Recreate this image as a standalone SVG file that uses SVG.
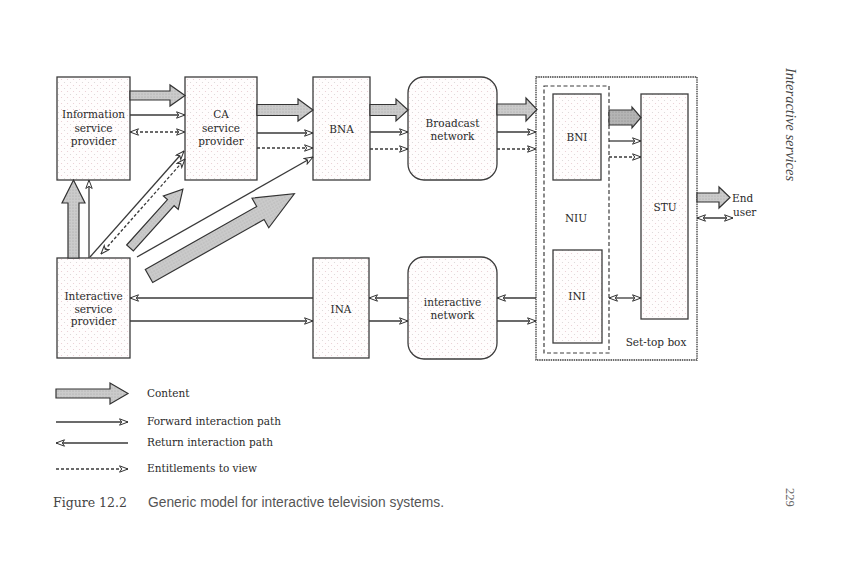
<svg xmlns="http://www.w3.org/2000/svg" width="864" height="576" viewBox="0 0 864 576">
<defs>
<pattern id="dots" width="6" height="6" patternUnits="userSpaceOnUse">
<rect width="6" height="6" fill="#fffdfd"/>
<circle cx="1.5" cy="1.5" r="0.55" fill="#e9c9cf"/>
<circle cx="4.5" cy="4.5" r="0.55" fill="#d9d4d4"/>
</pattern>
<pattern id="gdots" width="3" height="3" patternUnits="userSpaceOnUse">
<rect width="3" height="3" fill="#cbcbcb"/>
<circle cx="1" cy="1" r="0.5" fill="#9a9a9a"/>
</pattern>
<pattern id="gdots2" width="3" height="3" patternUnits="userSpaceOnUse">
<rect width="3" height="3" fill="#b4b4b4"/>
<circle cx="1" cy="1" r="0.5" fill="#808080"/>
</pattern>
<marker id="ah" viewBox="0 0 10 8" refX="9.5" refY="4" markerWidth="10" markerHeight="8" markerUnits="userSpaceOnUse" orient="auto-start-reverse">
<path d="M1,0.8 L9.5,4 L1,7.2 L3.2,4 Z" fill="#fff" stroke="#333" stroke-width="1"/>
</marker>
</defs>
<style>
.box{fill:url(#dots);stroke:#3c3c3c;stroke-width:1.3}
.outer{fill:#fff;stroke:#3c3c3c;stroke-width:1.3;stroke-dasharray:1.5 0.8}
.niu{fill:#fff;stroke:#3c3c3c;stroke-width:1.2;stroke-dasharray:4 2.5}
.lbl{font-family:"DejaVu Serif",serif;font-size:10.5px;fill:#2a2a2a;text-anchor:middle}
.lg{font-family:"DejaVu Serif",serif;font-size:10.5px;fill:#2a2a2a}
.fw{fill:none;stroke:#3a3a3a;stroke-width:1.3;marker-end:url(#ah)}
.bi{fill:none;stroke:#3a3a3a;stroke-width:1.3;marker-start:url(#ah);marker-end:url(#ah)}
.dsh{fill:none;stroke:#3a3a3a;stroke-width:1.3;stroke-dasharray:3 2;marker-end:url(#ah)}
.dbi{fill:none;stroke:#3a3a3a;stroke-width:1.3;stroke-dasharray:3 2;marker-start:url(#ah);marker-end:url(#ah)}
.ct{fill:url(#gdots);stroke:#333;stroke-width:1.2;stroke-linejoin:miter}
.ct2{fill:url(#gdots2);stroke:#333;stroke-width:1.2}
</style>
<rect width="864" height="576" fill="#fff"/>

<g id="set-top-box">
<rect class="outer" x="536" y="77" width="161" height="283"/>
<text class="lbl" x="656" y="346">Set-top box</text>
</g>
<g id="niu">
<rect class="niu" x="544" y="86" width="65" height="267"/>
<text class="lbl" x="576" y="222">NIU</text>
</g>
<g id="bni">
<rect class="box" x="553" y="94" width="48" height="86"/>
<text class="lbl" x="577" y="141">BNI</text>
</g>
<g id="ini">
<rect class="box" x="553" y="250" width="49" height="93"/>
<text class="lbl" x="577" y="300">INI</text>
</g>
<g id="stu">
<rect class="box" x="641" y="94" width="47" height="225"/>
<text class="lbl" x="665" y="211">STU</text>
</g>
<g id="info-provider">
<rect class="box" x="57" y="77" width="73" height="103"/>
<text class="lbl" x="93.5" y="118">Information</text>
<text class="lbl" x="93.5" y="131.5">service</text>
<text class="lbl" x="93.5" y="145">provider</text>
</g>
<g id="ca-provider">
<rect class="box" x="185" y="77" width="72" height="103"/>
<text class="lbl" x="221" y="118">CA</text>
<text class="lbl" x="221" y="131.5">service</text>
<text class="lbl" x="221" y="145">provider</text>
</g>
<g id="bna">
<rect class="box" x="313" y="77" width="57" height="103"/>
<text class="lbl" x="341.5" y="133">BNA</text>
</g>
<g id="broadcast-network">
<rect class="box" x="408" y="77" width="89" height="103" rx="16" ry="16"/>
<text class="lbl" x="452.5" y="127">Broadcast</text>
<text class="lbl" x="452.5" y="140">network</text>
</g>
<g id="interactive-provider">
<rect class="box" x="57" y="258" width="73" height="100"/>
<text class="lbl" x="93.5" y="300">Interactive</text>
<text class="lbl" x="93.5" y="312.5">service</text>
<text class="lbl" x="93.5" y="325">provider</text>
</g>
<g id="ina">
<rect class="box" x="313" y="258" width="56" height="100"/>
<text class="lbl" x="341" y="313">INA</text>
</g>
<g id="interactive-network">
<rect class="box" x="408" y="257" width="89" height="102" rx="16" ry="16"/>
<text class="lbl" x="452.5" y="306">interactive</text>
<text class="lbl" x="452.5" y="319">network</text>
</g>
<g id="end-user">
<text class="lg" x="732" y="202">End</text>
<text class="lg" x="733" y="216">user</text>
</g>

<g id="connectors">
<polygon class="ct" points="130,91 170,91 170,85 185,95.5 170,106 170,100 130,100"/>
<line class="fw" x1="130" y1="115" x2="185" y2="115"/>
<line class="dbi" x1="130" y1="132" x2="185" y2="132"/>
<polygon class="ct" points="257,104.5 298,104.5 298,99 313,110 298,121 298,115.5 257,115.5"/>
<line class="fw" x1="257" y1="133" x2="313" y2="133"/>
<line class="dsh" x1="257" y1="148" x2="313" y2="148"/>
<polygon class="ct" points="370,104.5 396,104.5 396,99 408,110 396,121 396,115.5 370,115.5"/>
<line class="fw" x1="370" y1="132" x2="408" y2="132"/>
<line class="dsh" x1="370" y1="149" x2="408" y2="149"/>
<polygon class="ct" points="497,104 526,104 526,98 537,109.5 526,121 526,115 497,115"/>
<line class="fw" x1="497" y1="132" x2="536" y2="132"/>
<line class="dsh" x1="497" y1="149" x2="536" y2="149"/>
<polygon class="ct2" points="609,110 632,110 632,107 641,117.5 632,128 632,125 609,125"/>
<line class="fw" x1="609" y1="141" x2="641" y2="141"/>
<line class="dsh" x1="609" y1="157" x2="641" y2="157"/>
<polygon class="ct" points="697,193 719,193 719,187 730,197.5 719,208 719,202 697,202"/>
<line class="bi" x1="697" y1="218" x2="733" y2="218"/>
<line class="bi" x1="609" y1="298" x2="641" y2="298"/>

<line class="fw" x1="313" y1="298" x2="130" y2="298"/>
<line class="fw" x1="130" y1="321" x2="313" y2="321"/>
<line class="fw" x1="408" y1="298" x2="369" y2="298"/>
<line class="fw" x1="369" y1="321" x2="408" y2="321"/>
<line class="fw" x1="536" y1="298" x2="497" y2="298"/>
<line class="fw" x1="497" y1="321" x2="536" y2="321"/>

<polygon class="ct" points="68,258 68,203 62,203 73.5,180 85,203 79,203 79,258"/>
<line class="fw" x1="89" y1="258" x2="89" y2="180"/>
<line class="fw" x1="90" y1="257" x2="184" y2="151"/>
<line class="dbi" x1="101" y1="254" x2="185" y2="159"/>
<polygon class="ct" transform="translate(130,248) rotate(-48)" points="0,-4.5 61,-4.5 61,-10 79,0 61,10 61,4.5 0,4.5"/>
<line class="fw" x1="137" y1="257" x2="313" y2="157"/>
<polygon class="ct" transform="translate(149,276) rotate(-29.5)" points="0,-7.5 128,-7.5 128,-17 167,0 128,17 128,7.5 0,7.5"/>
</g>

<g id="legend">
<polygon class="ct" points="56,389 110,389 110,383 128,393.5 110,404 110,398 56,398"/>
<text class="lg" x="147" y="397">Content</text>
<line class="fw" x1="56" y1="422" x2="128" y2="422"/>
<text class="lg" x="147" y="425">Forward interaction path</text>
<line class="fw" x1="128" y1="443" x2="56" y2="443"/>
<text class="lg" x="147" y="446">Return interaction path</text>
<line class="dsh" x1="56" y1="469" x2="128" y2="469"/>
<text class="lg" x="147" y="472">Entitlements to view</text>
</g>

<g id="caption">
<text x="53" y="507" font-family="DejaVu Serif, serif" font-size="12.5" fill="#444">Figure 12.2</text>
<text x="148" y="507" font-family="Liberation Sans, Arial, sans-serif" font-size="13.8" fill="#555">Generic model for interactive television systems.</text>
</g>
<g id="running-head">
<text transform="translate(786,68) rotate(90)" font-family="Liberation Serif, serif" font-style="italic" font-size="14.5" fill="#444">Interactive services</text>
<text transform="translate(786,488) rotate(90)" font-family="Liberation Serif, serif" font-size="12.5" fill="#666">229</text>
</g>
</svg>
